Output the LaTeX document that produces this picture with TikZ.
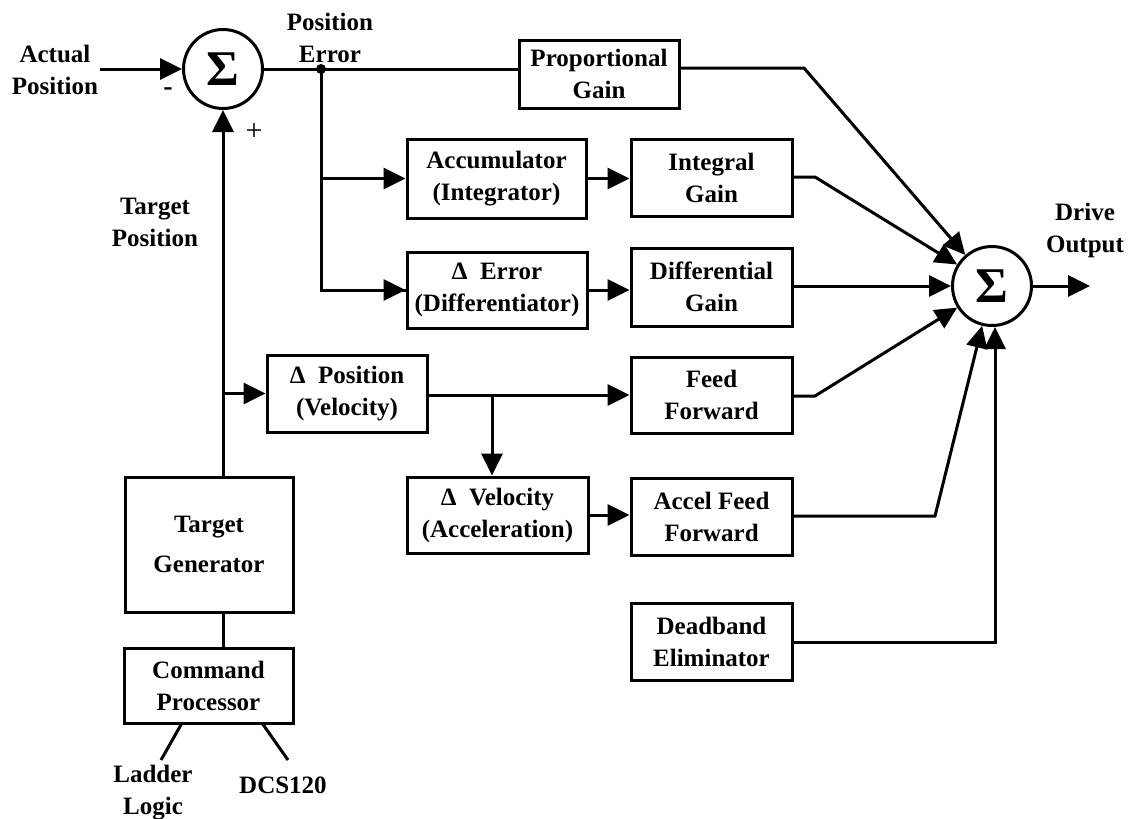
\documentclass[tikz,border=0pt]{standalone}
\usepackage{fontspec}
\setmainfont{Liberation Serif}
\usetikzlibrary{arrows.meta}
\begin{document}
\begin{tikzpicture}[x=1pt,y=-1pt,
  every node/.style={font=\fontsize{25}{32}\selectfont\bfseries, align=center, inner sep=0pt},
  blk/.style={draw, line width=3pt, minimum width=#1},
  blk/.default=161pt,
  sumnode/.style={draw, circle, line width=3pt, minimum size=79pt, font=\fontsize{50}{50}\selectfont\bfseries},
  wire/.style={line width=3pt},
  arr/.style={wire, -{Triangle[length=22pt,width=21pt]}},
  lbl/.style={font=\fontsize{25}{32}\selectfont\bfseries}]
\useasboundingbox (0,0) rectangle (1128,819);

% summing junctions
\node[sumnode] (s1) at (223,69) {Σ};
\node[sumnode] (s2) at (992,286) {Σ};

% blocks
\node[blk=160pt, minimum height=68pt] (prop)  at (599,74)    {Proportional\\Gain};
\node[blk=179pt, minimum height=79pt] (acc)   at (496.5,178.5) {Accumulator\\(Integrator)};
\node[blk, minimum height=77pt]       (integ) at (711.5,177.5) {Integral\\Gain};
\node[blk=180pt, minimum height=76pt] (derr)  at (497,290)   {Δ\ \ Error\\(Differentiator)};
\node[blk, minimum height=78pt]       (dgain) at (711.5,287) {Differential\\Gain};
\node[blk=160pt, minimum height=77pt] (dpos)  at (347,393.5) {Δ\ \ Position\\(Velocity)};
\node[blk, minimum height=76pt]       (ff)    at (711.5,395) {Feed\\Forward};
\node[blk=181pt, minimum height=76pt] (dvel)  at (497.5,515) {Δ\ \ Velocity\\(Acceleration)};
\node[blk, minimum height=77pt]       (aff)   at (711.5,516.5) {Accel Feed\\Forward};
\node[blk, minimum height=77pt]       (dead)  at (711.5,641.5) {Deadband\\Eliminator};
\node[blk=168pt, minimum height=135pt] (tgen) at (209,544.5) {Target\\[8pt]Generator};
\node[blk=169pt, minimum height=75pt] (cmd)   at (208.5,685.5) {Command\\Processor};

% free labels
\node[lbl] (actual) at (55,70)   {Actual\\Position};
\node[lbl] (perr)   at (330,38)  {Position\\Error};
\node[lbl] (tpos)   at (155,222) {Target\\Position};
\node[lbl] (drive)  at (1085,230) {Drive\\Output};
\node[lbl] (ladder) at (153,793) {Ladder\\Logic};
\node[lbl] (dcs)    at (283,785) {DCS120};
\node[font=\fontsize{28}{28}\selectfont\bfseries] (minus) at (168,92) {-};
\node[font=\fontsize{30}{30}\selectfont] (plus) at (254,132) {+};

% feedback input and error path
\coordinate (ain) at (100,69);
\draw[arr] (ain) -- (s1.west);
\coordinate (dot) at (321,69);
\draw[wire] (s1.east) -- (s1.east -| prop.west);
\fill (dot) circle (5pt);
\draw[wire] (dot) |- (derr.west);
\draw[arr] (dot |- derr.west) -- (derr.west);
\draw[arr] (dot |- acc.west) -- (acc.west);
\draw[arr] (acc.east) -- (acc.east -| integ.west);
\draw[arr] (derr.east) -- (derr.east -| dgain.west);

% target path
\draw[arr] (s1.south |- tgen.north) -- (s1.south);
\draw[arr] (s1.south |- dpos.west) -- (dpos.west);
\draw[wire] (s1.south |- tgen.south) -- (s1.south |- cmd.north);
\coordinate (br) at (492,395);
\draw[arr] (dpos.east |- br) -- (br -| ff.west);
\draw[arr] (br) -- (br |- dvel.north);
\draw[arr] (dvel.east) -- (dvel.east -| aff.west);

% command processor inputs
\coordinate (la) at (182,723);
\coordinate (lb) at (161,760);
\coordinate (da) at (262,723);
\coordinate (db) at (288,760);
\draw[wire] (la) -- (lb);
\draw[wire] (da) -- (db);

% paths into the output summing junction
\coordinate (pk) at (804,68);
\coordinate (ik) at (815,177);
\coordinate (fk) at (815,396);
\coordinate (ak) at (935,516);
\draw[arr] (prop.east |- pk) -- (pk) -- (s2);
\draw[arr] (integ.east |- ik) -- (ik) -- (s2);
\draw[arr] (dgain.east |- s2) -- (s2.west);
\draw[arr] (ff.east |- fk) -- (fk) -- (s2);
\draw[arr] (aff.east |- ak) -- (ak) -- (s2);
\coordinate (dk) at (995,642);
\draw[arr] (dead.east |- dk) -- (dk) -- (dk |- s2.south);
\coordinate (out) at (1090,286);
\draw[arr] (s2.east) -- (out);
\end{tikzpicture}
\end{document}
